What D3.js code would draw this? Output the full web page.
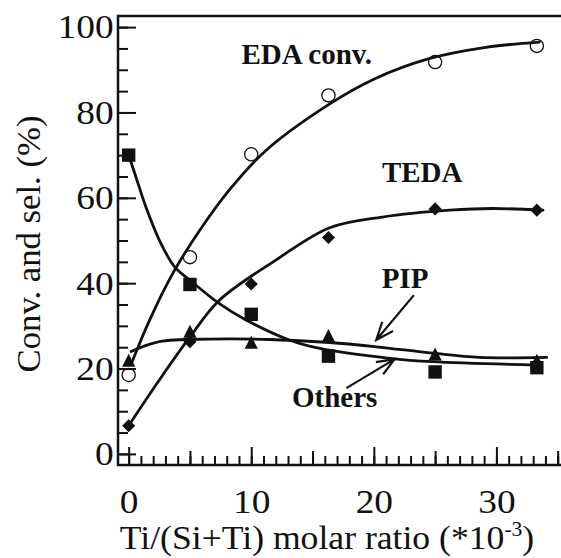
<!doctype html>
<html>
<head>
<meta charset="utf-8">
<title>Conv. and sel.</title>
<script src="https://cdn.jsdelivr.net/npm/d3@7/dist/d3.min.js"></script>
<style>
  body { margin: 0; background: #fff; }
  svg { display: block; }
  text { font-family: "Liberation Serif", "Times New Roman", serif; fill: #111; }
</style>
</head>
<body>
<script>
var w = 561, h = 558;

// Ti/(Si+Ti) molar ratio (*10^-3)
var ratio   = [0, 5, 10, 16.3, 25, 33.3];
var edaConv = [18.5, 46.1, 70.2, 84.0, 91.8, 95.6];
var teda    = [6.6, 26.3, 39.8, 50.7, 57.4, 57.1];
var pip     = [21.7, 28.5, 25.9, 27.5, 23.2, 21.7];
var others  = [70.0, 39.7, 32.7, 22.9, 19.2, 20.2];

// smooth fit lines as drawn in the figure, [x, y]
var edaFit    = [[0.3,21.7],[1.7,31.3],[3.6,42.3],[5.8,52.4],[8.2,61.8],[11.2,71.1],[16.4,82.0],[20,87.8],[24.5,92.6],[29,95.2],[33.5,96.5]];
var tedaFit   = [[0,6.6],[2.5,17.3],[5,27.4],[7.4,36.0],[12,45.4],[16.4,53.0],[20.7,55.5],[26.2,57.1],[29.7,57.5],[33.8,57.1]];
var pipFit    = [[0.2,24.0],[2.5,26.3],[6.6,26.9],[11.5,26.8],[16.4,26.1],[20.2,25.1],[24.8,23.6],[28.6,22.6],[34.1,22.6]];
var othersFit = [[0,70.0],[0.5,65.7],[1.4,57.9],[2.5,50.1],[3.75,43.8],[5,40.7],[7.4,35.2],[9.5,31.5],[13.1,26.7],[15.6,24.7],[21.3,22.4],[24.8,21.6],[33.3,20.8]];

var xTicks = [0, 10, 20, 30];
var yTicks = [0, 20, 40, 60, 80, 100];

// curve labels and arrows, in data units
var labels = [
  {text: "EDA conv.", x: 9.2,  y: 91.3},
  {text: "TEDA",      x: 20.66, y: 63.7},
  {text: "PIP",       x: 20.64, y: 38.8},
  {text: "Others",    x: 13.32, y: 11.1}
];
var arrows = [
  {from: [23.27, 37.2], to: [20.2, 26.7]},
  {from: [17.76, 15.4], to: [21.7, 22.2]}
];

var pL = 118, pT = 16, pR = 561, pB = 465;
var ink = "#111";

var x = d3.scaleLinear().domain([-0.87, 35.27]).range([pL, pR]);
var y = d3.scaleLinear().domain([-2.6, 102.6]).range([pB, pT]);

var svg = d3.select("body").append("svg").attr("width", w).attr("height", h);

// frame (right side runs off the picture)
svg.append("path")
  .attr("d", "M" + (w + 5) + "," + pT + "H" + pL + "V" + pB + "H" + (w + 5))
  .attr("fill", "none").attr("stroke", ink).attr("stroke-width", 2.5);

function cleanAxis(g) {
  g.select(".domain").remove();
  g.selectAll(".tick line").attr("stroke", ink).attr("stroke-width", 2);
}

// y axis
svg.append("g").attr("transform", "translate(" + pL + ",0)")
  .call(d3.axisLeft(y).tickValues(d3.range(0, 101, 5)).tickSizeInner(-10).tickSizeOuter(0).tickFormat(""))
  .call(cleanAxis);
var yAx = svg.append("g").attr("transform", "translate(" + pL + ",0)")
  .call(d3.axisLeft(y).tickValues(yTicks).tickSizeInner(-18).tickSizeOuter(0).tickPadding(4).tickFormat(d3.format("d")))
  .call(cleanAxis);
yAx.selectAll("text").attr("font-size", 34).attr("fill", ink)
  .attr("font-family", "'Liberation Serif', 'Times New Roman', serif")
  .attr("transform", "scale(1.1,1)");

// x axis
svg.append("g").attr("transform", "translate(0," + pB + ")")
  .call(d3.axisBottom(x).tickValues(d3.range(0, 36, 1)).tickSizeInner(-9).tickSizeOuter(0).tickFormat(""))
  .call(cleanAxis);
svg.append("g").attr("transform", "translate(0," + pB + ")")
  .call(d3.axisBottom(x).tickValues(d3.range(5, 36, 10)).tickSizeInner(-14).tickSizeOuter(0).tickFormat(""))
  .call(cleanAxis);
var xAx = svg.append("g").attr("transform", "translate(0," + pB + ")")
  .call(d3.axisBottom(x).tickValues(xTicks).tickSizeInner(-18).tickSizeOuter(0).tickPadding(24).tickFormat(d3.format("d")))
  .call(cleanAxis);
xAx.selectAll("text").attr("font-size", 34).attr("fill", ink)
  .attr("font-family", "'Liberation Serif', 'Times New Roman', serif")
  .attr("transform", "scale(1.1,1)");

// axis titles
var xt = svg.append("text")
  .attr("transform", "translate(327,549) scale(1.08,1)")
  .attr("text-anchor", "middle").attr("font-size", 33);
xt.append("tspan").text("Ti/(Si+Ti) molar ratio (*10");
xt.append("tspan").attr("font-size", 20).attr("dy", -13).text("-3");
xt.append("tspan").attr("dy", 13).text(")");

svg.append("text")
  .attr("transform", "translate(39.5,244) rotate(-90)")
  .attr("text-anchor", "middle").attr("font-size", 34.7)
  .text("Conv. and sel. (%)");

// fit curves
var line = d3.line()
  .x(function(d){ return x(d[0]); })
  .y(function(d){ return y(d[1]); })
  .curve(d3.curveCatmullRom.alpha(0.5));

[edaFit, tedaFit, pipFit, othersFit].forEach(function(c){
  svg.append("path").attr("d", line(c))
    .attr("fill", "none").attr("stroke", ink).attr("stroke-width", 2.8)
    .attr("stroke-linecap", "round");
});

// markers
function pts(vals){ return vals.map(function(v, i){ return [ratio[i], v]; }); }

svg.selectAll("circle.eda").data(pts(edaConv)).enter().append("circle")
  .attr("cx", function(d){ return x(d[0]); })
  .attr("cy", function(d){ return y(d[1]); })
  .attr("r", 6.6).attr("fill", "none").attr("stroke", ink).attr("stroke-width", 1.3);

svg.selectAll("path.others").data(pts(others)).enter().append("path")
  .attr("transform", function(d){ return "translate(" + x(d[0]) + "," + y(d[1]) + ")"; })
  .attr("d", d3.symbol(d3.symbolSquare, 13.4 * 13.4)).attr("fill", ink);

svg.selectAll("path.teda").data(pts(teda)).enter().append("path")
  .attr("transform", function(d){ return "translate(" + x(d[0]) + "," + y(d[1]) + ") rotate(45)"; })
  .attr("d", d3.symbol(d3.symbolSquare, 9.3 * 9.3)).attr("fill", ink);

svg.selectAll("path.pip").data(pts(pip)).enter().append("path")
  .attr("transform", function(d){ return "translate(" + x(d[0]) + "," + y(d[1]) + ")"; })
  .attr("d", "M0,-7.5L6.6,5.5L-6.6,5.5Z").attr("fill", ink);

// labels
svg.selectAll("text.lab").data(labels).enter().append("text")
  .attr("x", function(d){ return x(d.x); })
  .attr("y", function(d){ return y(d.y); })
  .attr("font-size", 29).attr("font-weight", "bold")
  .text(function(d){ return d.text; });

// arrows
arrows.forEach(function(a){
  var x0 = x(a.from[0]), y0 = y(a.from[1]), x1 = x(a.to[0]), y1 = y(a.to[1]);
  var ang = Math.atan2(y0 - y1, x0 - x1), len = 19, spread = 0.38;
  var p = d3.path();
  p.moveTo(x0, y0); p.lineTo(x1, y1);
  p.moveTo(x1 + len * Math.cos(ang - spread), y1 + len * Math.sin(ang - spread));
  p.lineTo(x1, y1);
  p.lineTo(x1 + len * Math.cos(ang + spread), y1 + len * Math.sin(ang + spread));
  svg.append("path").attr("d", p.toString())
    .attr("fill", "none").attr("stroke", ink).attr("stroke-width", 2.2);
});
</script>
</body>
</html>
